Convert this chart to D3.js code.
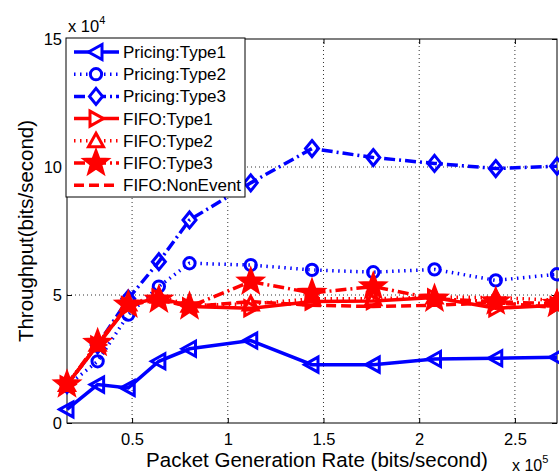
<!DOCTYPE html>
<html>
<head>
<meta charset="utf-8">
<script src="https://cdn.jsdelivr.net/npm/d3@7"></script>
<style>
  body { margin: 0; background: #fff; }
  svg { display: block; font-family: "Liberation Sans", Arial, sans-serif; }
</style>
</head>
<body>
<script>
// packet generation rate (bits/second)
const rate = [16000, 32000, 48000, 64000, 80000, 112000, 144000, 176000, 208000, 240000, 272000];

// throughput (bits/second)
const pricingType1 = [5300, 15000, 13700, 24100, 29000, 32200, 22800, 22800, 25000, 25300, 25700];
const pricingType2 = [14500, 24100, 42300, 53300, 62400, 61700, 59800, 58900, 60000, 55700, 58100];
const pricingType3 = [15000, 30500, 48500, 63000, 79300, 93800, 107200, 103700, 101400, 99400, 100300];
const fifoType1 = [15000, 30500, 46000, 49000, 45500, 44800, 47500, 47700, 49000, 44800, 46000];
const fifoType2 = [15000, 30800, 46500, 49500, 46000, 46500, 48500, 48500, 49200, 49000, 48000];
const fifoType3 = [15000, 31200, 46200, 48100, 45500, 55200, 50800, 53300, 48500, 47400, 46500];
const fifoNonEvent = [15000, 30500, 46000, 48500, 45500, 47400, 46000, 45500, 46000, 47000, 45000];

const xTicks = [50000, 100000, 150000, 200000, 250000];
const yTicks = [0, 50000, 100000, 150000];

const series = [
  {name: "Pricing:Type1", values: pricingType1, color: "#0000ff", dash: null, marker: "tleft"},
  {name: "Pricing:Type2", values: pricingType2, color: "#0000ff", dash: "1.5,4.5", marker: "circle"},
  {name: "Pricing:Type3", values: pricingType3, color: "#0000ff", dash: "11,4,2,4", marker: "diamond"},
  {name: "FIFO:Type1", values: fifoType1, color: "#ff0000", dash: null, marker: "tright"},
  {name: "FIFO:Type2", values: fifoType2, color: "#ff0000", dash: "1.5,4.5", marker: "tup"},
  {name: "FIFO:Type3", values: fifoType3, color: "#ff0000", dash: "11,4,2,4", marker: "star"},
  {name: "FIFO:NonEvent", values: fifoNonEvent, color: "#ff0000", dash: "10,5", marker: null}
];

const width = 559, height = 475;
const margin = {top: 39, right: 2, bottom: 52, left: 67};

const svg = d3.select("body").append("svg")
  .attr("width", width)
  .attr("height", height);

const x = d3.scaleLinear()
  .domain([16000, 272000])
  .range([margin.left, width - margin.right]);

const y = d3.scaleLinear()
  .domain([0, 150000])
  .range([height - margin.bottom, margin.top]);

// grid
const grid = svg.append("g");
grid.selectAll(".gx")
  .data(xTicks)
  .enter().append("line")
  .attr("x1", d => x(d)).attr("x2", d => x(d))
  .attr("y1", y(0)).attr("y2", y(150000))
  .attr("stroke", "#333").attr("stroke-width", 1).attr("stroke-dasharray", "1,3");
grid.selectAll(".gy")
  .data(yTicks.filter(d => d > 0 && d < 150000))
  .enter().append("line")
  .attr("y1", d => y(d)).attr("y2", d => y(d))
  .attr("x1", x(16000)).attr("x2", x(272000))
  .attr("stroke", "#333").attr("stroke-width", 1).attr("stroke-dasharray", "1,3");

// axes, ticks inside like matlab
const fmtX = d => d3.format("~g")(d / 1e5);
const fmtY = d => d3.format("~g")(d / 1e4);

svg.append("g")
  .attr("transform", `translate(0,${y(0)})`)
  .call(d3.axisBottom(x).tickValues(xTicks).tickSizeInner(-5).tickSizeOuter(0).tickPadding(10).tickFormat(fmtX))
  .call(g => g.select(".domain").remove())
  .call(g => g.selectAll("text").attr("font-size", 16.5).attr("font-family", "Liberation Sans, Arial, sans-serif"));

svg.append("g")
  .attr("transform", `translate(0,${y(150000)})`)
  .call(d3.axisTop(x).tickValues(xTicks).tickSizeInner(-5).tickSizeOuter(0).tickFormat(""))
  .call(g => g.select(".domain").remove());

svg.append("g")
  .attr("transform", `translate(${x(16000)},0)`)
  .call(d3.axisLeft(y).tickValues(yTicks).tickSizeInner(-5).tickSizeOuter(0).tickPadding(5).tickFormat(fmtY))
  .call(g => g.select(".domain").remove())
  .call(g => g.selectAll("text").attr("font-size", 16.5).attr("font-family", "Liberation Sans, Arial, sans-serif"));

svg.append("g")
  .attr("transform", `translate(${x(272000)},0)`)
  .call(d3.axisRight(y).tickValues(yTicks).tickSizeInner(-5).tickSizeOuter(0).tickFormat(""))
  .call(g => g.select(".domain").remove());

svg.append("rect")
  .attr("x", x(16000)).attr("y", y(150000))
  .attr("width", x(272000) - x(16000)).attr("height", y(0) - y(150000))
  .attr("fill", "none").attr("stroke", "#000").attr("stroke-width", 1);

// markers
function markerPath(type) {
  if (type === "circle") return d3.symbol(d3.symbolCircle, 100)();
  if (type === "diamond") return "M0,-8L6.5,0L0,8L-6.5,0Z";
  if (type === "tleft") return "M-7.5,0L6,-7.5L6,7.5Z";
  if (type === "tright") return "M7.5,0L-6,-7.5L-6,7.5Z";
  if (type === "tup") return "M0,-7.5L7.5,6L-7.5,6Z";
  if (type === "star") {
    const pts = [];
    for (let i = 0; i < 10; i++) {
      const r = i % 2 === 0 ? 12 : 5;
      const a = -Math.PI / 2 + i * Math.PI / 5;
      pts.push([r * Math.cos(a), r * Math.sin(a)]);
    }
    return "M" + pts.map(p => p.join(",")).join("L") + "Z";
  }
  return null;
}

const line = d3.line()
  .x((d, i) => x(rate[i]))
  .y(d => y(d));

series.forEach(s => {
  const g = svg.append("g");
  g.append("path")
    .datum(s.values)
    .attr("d", line)
    .attr("fill", "none")
    .attr("stroke", s.color)
    .attr("stroke-width", 3.5)
    .attr("stroke-dasharray", s.dash);
  if (s.marker) {
    g.selectAll("path.mk")
      .data(s.values)
      .enter().append("path")
      .attr("class", "mk")
      .attr("transform", (d, i) => `translate(${x(rate[i])},${y(d)})`)
      .attr("d", markerPath(s.marker))
      .attr("fill", s.marker === "star" ? s.color : "none")
      .attr("stroke", s.color)
      .attr("stroke-width", 3);
  }
});

// exponent labels
const exp4 = svg.append("text").attr("x", 68).attr("y", 32).attr("font-size", 16.5);
exp4.append("tspan").text("x 10");
exp4.append("tspan").attr("dy", -8).attr("font-size", 11).text("4");

const exp5 = svg.append("text").attr("x", 512).attr("y", 471).attr("font-size", 16);
exp5.append("tspan").text("x 10");
exp5.append("tspan").attr("dy", -8).attr("font-size", 11).text("5");

// axis titles
svg.append("text")
  .attr("x", 317).attr("y", 467)
  .attr("text-anchor", "middle")
  .attr("font-size", 20.5)
  .text("Packet Generation Rate (bits/second)");

svg.append("text")
  .attr("transform", "translate(33,231) rotate(-90)")
  .attr("text-anchor", "middle")
  .attr("font-size", 20.5)
  .text("Throughput(bits/second)");

// legend
const legend = svg.append("g").attr("transform", "translate(66,38)");
legend.append("rect")
  .attr("width", 179).attr("height", 159)
  .attr("fill", "#fff").attr("stroke", "#000").attr("stroke-width", 1);

const item = legend.selectAll("g.item")
  .data(series)
  .enter().append("g")
  .attr("class", "item")
  .attr("transform", (d, i) => `translate(0,${14 + i * 22.2})`);

item.append("line")
  .attr("x1", 8).attr("x2", 53).attr("y1", 0).attr("y2", 0)
  .attr("stroke", d => d.color)
  .attr("stroke-width", 3.5)
  .attr("stroke-dasharray", d => d.dash);

item.filter(d => d.marker).append("path")
  .attr("transform", "translate(30,0)")
  .attr("d", d => markerPath(d.marker))
  .attr("fill", d => d.marker === "star" ? d.color : "#fff")
  .attr("stroke", d => d.color)
  .attr("stroke-width", 3);

item.append("text")
  .attr("x", 57).attr("y", 6)
  .attr("font-size", 17)
  .text(d => d.name);
</script>
</body>
</html>
